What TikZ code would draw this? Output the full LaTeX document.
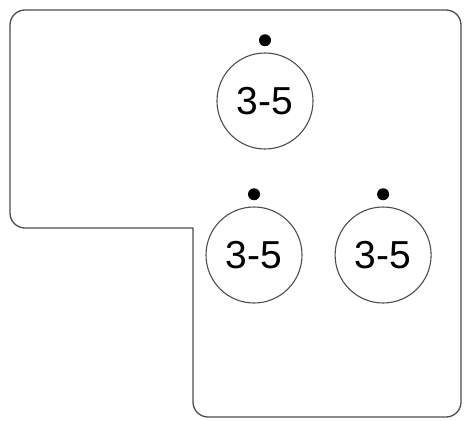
\documentclass[tikz,border=0pt]{standalone}
\usepackage{fontspec}
\setmainfont{Liberation Sans}
\usepackage{tikz}
\usetikzlibrary{positioning}
\definecolor{linegray}{HTML}{4D4D4D}

\begin{document}
\begin{tikzpicture}[x=1pt,y=-1pt,node distance=32pt]
\tikzstyle{every node}=[font=\fontsize{39}{44}\selectfont]
\tikzstyle{hole}=[circle,draw=linegray,line width=1.1pt,minimum size=96pt,inner sep=0pt]
\tikzstyle{dotmark}=[circle,fill=black,minimum size=12pt,inner sep=0pt]
\useasboundingbox (0,0) rectangle (465,420);
% outline of the plate
\draw[linegray,line width=1.3pt,rounded corners=15pt,line cap=rect] (193,228) -- (10,228) -- (10,10) -- (461,10) -- (461,417) -- (193,417) -- (193,228);
\path node[hole] (c1) at (265,101) {3-5};
\path node[dotmark,above=6pt of c1] (d1) {};
\path node[hole] (c2) at (254,255) {3-5};
\path node[dotmark,above=6pt of c2] (d2) {};
\path node[hole,right=32pt of c2] (c3) {3-5};
\path node[dotmark,above=6pt of c3] (d3) {};
\end{tikzpicture}
\end{document}
